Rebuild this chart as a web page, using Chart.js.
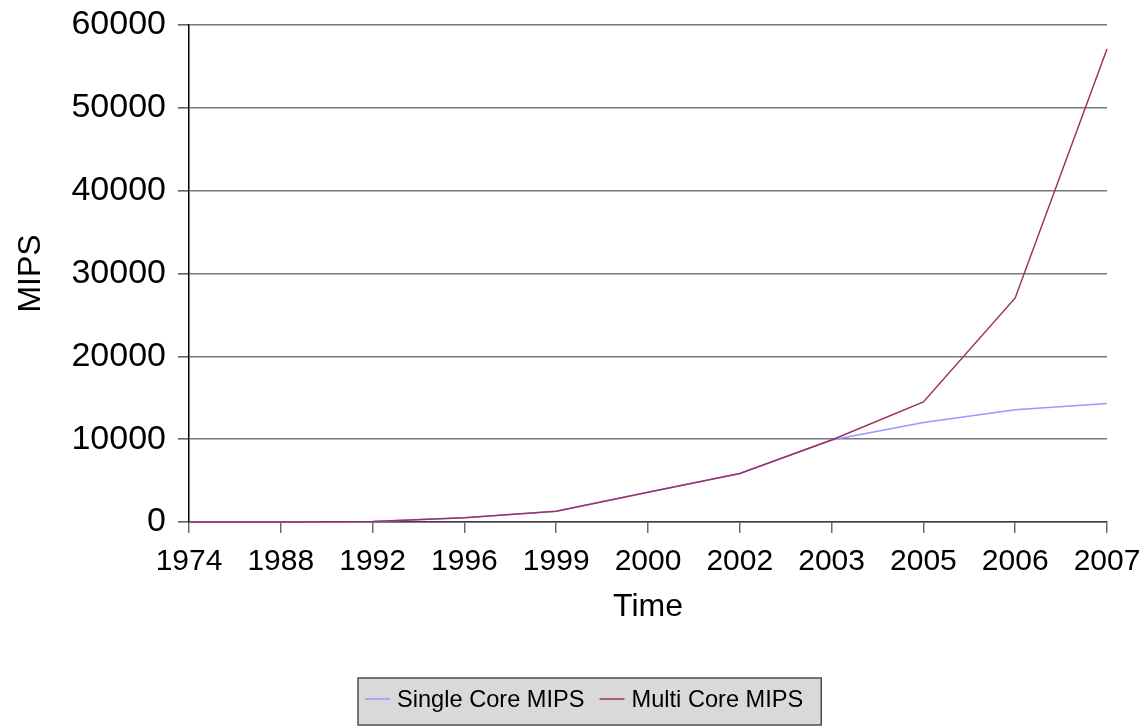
<!DOCTYPE html>
<html>
<head>
<meta charset="utf-8">
<script src="https://cdn.jsdelivr.net/npm/chart.js@4.4.0/dist/chart.umd.min.js"></script>
<style>
  body { margin: 0; background: #fff; }
  #wrap { width: 1144px; height: 726px; }
</style>
</head>
<body>
<div id="wrap"><canvas id="mips" width="1144" height="726"></canvas></div>
<script>
const years = ["1974", "1988", "1992", "1996", "1999", "2000", "2002", "2003", "2005", "2006", "2007"];
const singleCore = [0.5, 8, 60, 500, 1300, 3600, 5860, 9900, 12000, 13550, 14300];
const multiCore = [0.5, 8, 60, 500, 1300, 3600, 5860, 9900, 14500, 27050, 57100];
const yMax = 60000;
const yStep = 10000;

const FONT = '"Liberation Sans", Arial, sans-serif';

// grey boxed legend under the chart, drawn straight onto the canvas
const legendBox = {
  id: "legendBox",
  afterDraw(chart) {
    const ctx = chart.ctx;
    const left = 358, top = 678, height = 47;
    const sample = 25, gap = 7, spacing = 15;
    ctx.save();
    ctx.font = "23.6px " + FONT;
    const sets = chart.data.datasets;
    const widths = sets.map((ds) => ctx.measureText(ds.label).width);
    const width = 7 + widths.reduce((s, w) => s + sample + gap + w, 0) + spacing * (sets.length - 1) + 18;

    ctx.fillStyle = "#d9d9d9";
    ctx.fillRect(left, top, width, height);
    ctx.strokeStyle = "#4d4d4d";
    ctx.lineWidth = 1.5;
    ctx.strokeRect(left, top, width, height);

    let x = left + 7;
    const cy = top + 21;
    sets.forEach((ds, i) => {
      ctx.strokeStyle = ds.borderColor;
      ctx.lineWidth = 1.5;
      ctx.beginPath();
      ctx.moveTo(x, cy);
      ctx.lineTo(x + sample, cy);
      ctx.stroke();
      ctx.fillStyle = "#000";
      ctx.textBaseline = "middle";
      ctx.fillText(ds.label, x + sample + gap, cy + 1);
      x += sample + gap + widths[i] + spacing;
    });
    ctx.restore();
  }
};

new Chart(document.getElementById("mips"), {
  type: "line",
  data: {
    labels: years,
    datasets: [
      {
        label: "Single Core MIPS",
        data: singleCore,
        borderColor: "#9999ff",
        borderWidth: 1.5,
        pointRadius: 0,
        tension: 0,
        clip: 4,
        order: 2
      },
      {
        label: "Multi Core MIPS",
        data: multiCore,
        borderColor: "#993366",
        borderWidth: 1.5,
        pointRadius: 0,
        tension: 0,
        clip: 4,
        order: 1
      }
    ]
  },
  options: {
    responsive: false,
    animation: false,
    layout: { padding: { left: 0, right: 37, top: 25, bottom: 48 } },
    plugins: {
      legend: { display: false },
      tooltip: { enabled: false }
    },
    scales: {
      x: {
        offset: false,
        afterFit: (scale) => {
          scale.height = 156;
          scale.paddingLeft = 0;
          scale.paddingRight = 0;
        },
        grid: { drawOnChartArea: false, tickLength: 11, color: "#6e6e6e", lineWidth: 1.5 },
        border: { color: "#404040", width: 1.5 },
        ticks: { color: "#000", padding: 11, maxRotation: 0, autoSkip: false, font: { family: FONT, size: 30 } },
        title: { display: true, text: "Time", color: "#000", font: { family: FONT, size: 32 }, padding: { top: 0, bottom: 52 } }
      },
      y: {
        min: 0,
        max: yMax,
        afterFit: (scale) => {
          scale.width = 189;
          scale.paddingTop = 0;
          scale.paddingBottom = 0;
        },
        grid: { color: "#787878", lineWidth: 1.6, tickLength: 11, tickColor: "#606060" },
        border: { color: "#000", width: 1.5 },
        ticks: {
          stepSize: yStep,
          color: "#000",
          padding: 12,
          font: { family: FONT, size: 34 },
          callback: (v) => String(v)
        },
        title: { display: true, text: "MIPS", color: "#000", font: { family: FONT, size: 32 }, padding: { top: 12, bottom: 0 } }
      }
    }
  },
  plugins: [legendBox]
});
</script>
</body>
</html>
